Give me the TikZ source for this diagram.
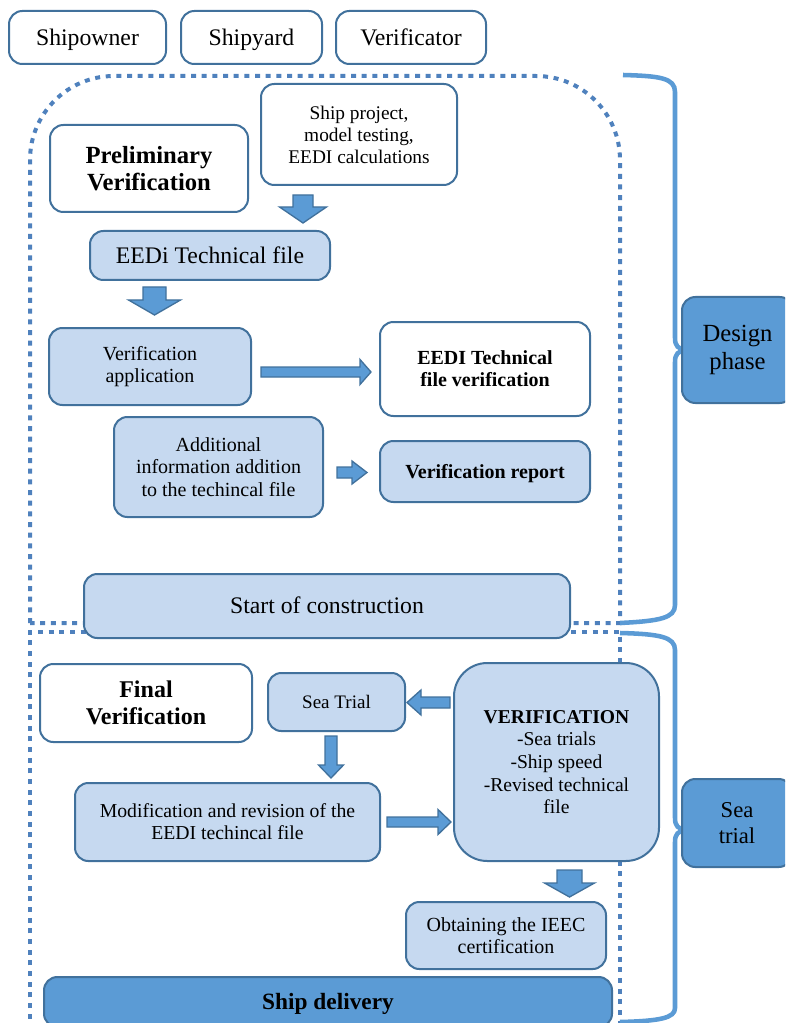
\documentclass[tikz,border=0pt]{standalone}
\usepackage{fontspec}
\setmainfont{Liberation Serif}
\definecolor{bordc}{HTML}{41719C}
\definecolor{lightb}{HTML}{C6D9F0}
\definecolor{medb}{HTML}{5B9BD5}
\definecolor{dotc}{HTML}{4F81BD}
\newcommand\fs[2]{\fontsize{#1}{#2}\selectfont}
\tikzset{
 base/.style={draw=bordc, line width=1.5pt, rounded corners=10pt, align=center, inner sep=0pt, text=black},
 wbox/.style={base, fill=white},
 lbox/.style={base, fill=lightb},
 dbox/.style={base, fill=medb},
 oneline/.style={text height=#1, text depth=0pt},
 blockarrow/.style={draw=bordc, line width=1pt, fill=medb, line join=miter},
 dotline/.style={draw=dotc, line width=3pt, dash pattern=on 3.75pt off 4.25pt},
 bracel/.style={draw=medb, line width=3.4pt},
}
% name, x1, y1, x2, y2, style, text
\newcommand\bx[7]{\node[#6, minimum width={(#4-#2)*0.75pt}, minimum height={(#5-#3)*0.75pt}] (#1) at ({(#2+#4)/2},{(#3+#5)/2}) {#7};}
% down arrow: xc, ytop, yhead, ytip, shafthalf, headhalf
\newcommand\darr[6]{\draw[blockarrow] ({#1-#5},#2) -- ({#1+#5},#2) -- ({#1+#5},#3) -- ({#1+#6},#3) -- (#1,#4) -- ({#1-#6},#3) -- ({#1-#5},#3) -- cycle;}
% horizontal arrow: yc, xstart, xhead, xtip, shafthalf, headhalf
\newcommand\harr[6]{\draw[blockarrow] (#2,{#1-#5}) -- (#3,{#1-#5}) -- (#3,{#1-#6}) -- (#4,#1) -- (#3,{#1+#6}) -- (#3,{#1+#5}) -- (#2,{#1+#5}) -- cycle;}
\begin{document}
\begin{tikzpicture}[x=0.75pt,y=-0.75pt]
\useasboundingbox (0,0) rectangle (785,1023);
\clip (0,0) rectangle (785,1023);

% dotted regions
\draw[dotline] (30,623) -- (30,300) [rounded corners=63pt] -- (30,76) -- (620,76) -- (620,300) [sharp corners] -- (620,623) -- cycle;
\draw[dotline] (30,1040) -- (30,632) -- (620,632) -- (620,1040);

% braces
\draw[bracel] (623,75) .. controls (660,76) and (675,78) .. (675,92) -- (675,338) .. controls (675,346) and (678,349) .. (686,350);
\draw[bracel] (686,350) .. controls (678,351) and (675,354) .. (675,362) -- (675,605) .. controls (675,618) and (660,621) .. (620,623);
\draw[bracel] (620,633) .. controls (660,634) and (675,637) .. (675,650) -- (675,818) .. controls (675,826) and (678,829) .. (686,830);
\draw[bracel] (686,830) .. controls (678,831) and (675,834) .. (675,842) -- (675,1008) .. controls (675,1018) and (660,1021) .. (620,1022);

% header boxes
\bx{owner}{9}{11}{166}{64}{wbox,oneline=11.8pt,font=\fs{17.8}{20}}{Shipowner}
\bx{yard}{181}{11}{322}{64}{wbox,oneline=11.8pt,font=\fs{17.8}{20}}{Shipyard}
\bx{verif}{336}{11}{486}{64}{wbox,oneline=11.8pt,font=\fs{17.8}{20}}{Verificator}

% design phase
\bx{prelim}{50}{125}{248}{212}{wbox,font=\fs{18.5}{20.3}\bfseries}{Preliminary\\Verification}
\bx{project}{261}{84}{457}{185}{wbox,font=\fs{14.5}{16.5}}{Ship project,\\model testing,\\EEDI calculations}
\bx{techfile}{90}{231}{330}{280}{lbox,oneline=11.8pt,font=\fs{17.8}{20}}{EEDi Technical file}
\bx{app}{49}{328}{251}{405}{lbox,font=\fs{15}{17}}{Verification\\application}
\bx{tfverif}{380}{322}{590}{416}{wbox,font=\fs{15}{16.5}\bfseries}{EEDI Technical\\file verification}
\bx{addinfo}{114}{417}{323}{517}{lbox,font=\fs{15}{16.9}}{Additional\\information addition\\to the techincal file}
\bx{report}{380}{441}{590}{502}{lbox,oneline=10pt,font=\fs{15}{17}\bfseries}{Verification report}
\bx{start}{84}{574}{570}{638}{lbox,oneline=11.8pt,font=\fs{17.8}{20}}{Start of construction}
\bx{design}{682}{297}{793}{403}{dbox,font=\fs{18.5}{20.8}}{Design\\phase}

% sea trial phase
\bx{final}{40}{664}{252}{742}{wbox,font=\fs{18}{20}\bfseries}{Final\\Verification}
\bx{seatrial}{268}{673}{405}{731}{lbox,oneline=9.5pt,font=\fs{14.3}{17}}{Sea Trial}
\bx{vbig}{454}{663}{659}{861}{lbox,rounded corners=25pt,font=\fs{14.7}{17}}{\textbf{VERIFICATION}\\-Sea trials\\-Ship speed\\-Revised technical\\file}
\bx{modif}{75}{783}{380}{861}{lbox,font=\fs{14.8}{16.7}}{Modification and revision of the\\EEDI techincal file}
\bx{obtain}{406}{902}{606}{969}{lbox,font=\fs{15}{17}}{Obtaining the IEEC\\certification}
\bx{delivery}{44}{977}{612}{1027}{dbox,oneline=11.5pt,font=\fs{17.5}{19}\bfseries}{Ship delivery}
\bx{sea}{682}{779}{792}{867}{dbox,font=\fs{17}{20}}{Sea\\trial}

% block arrows
\darr{303}{195}{207}{223}{10}{23.5}
\darr{154.5}{287}{300}{315}{11.5}{26}
\harr{372}{261}{360}{371}{5}{12.5}
\harr{472.5}{337}{352}{367}{5.5}{11.5}
\harr{702.5}{450}{421}{407}{5.5}{12.5}
\darr{331}{736}{765}{778}{6}{12.5}
\harr{822}{387}{438}{451}{5}{12.5}
\darr{569.5}{870}{883}{897}{12.5}{25}
\end{tikzpicture}
\end{document}
